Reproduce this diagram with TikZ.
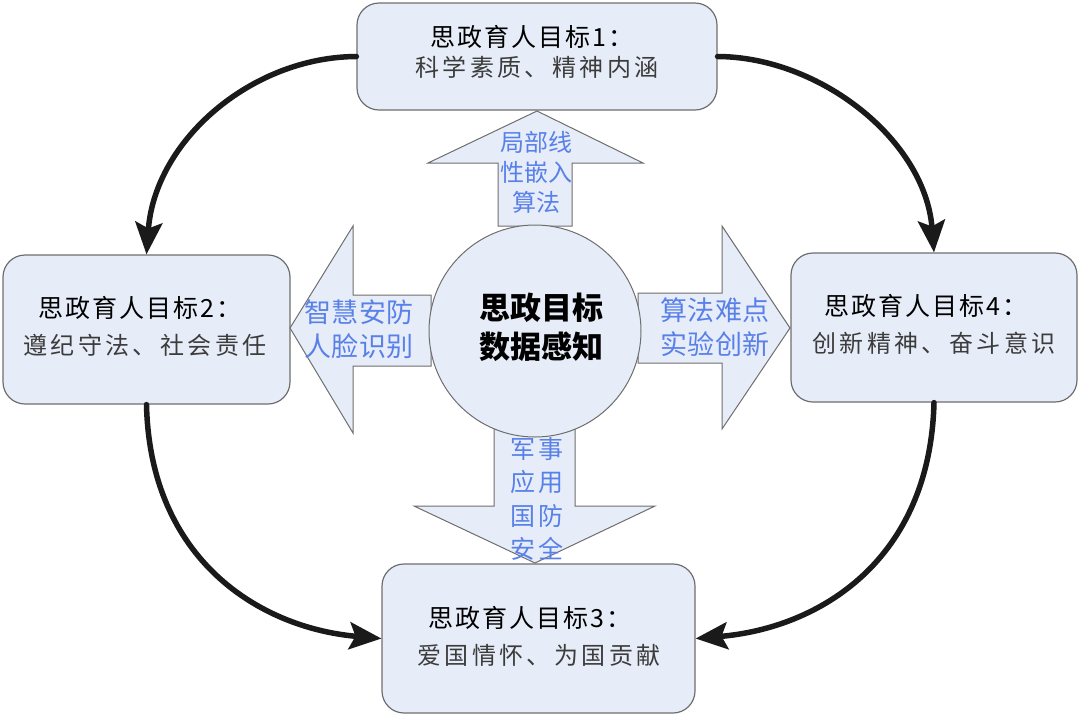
\documentclass[tikz,border=0pt]{standalone}
\usepackage{fontspec}
\usetikzlibrary{arrows.meta}
\newfontfamily\cjktitle[LetterSpace=8]{Noto Sans CJK SC}
\newfontfamily\cjksub[LetterSpace=14]{Noto Sans CJK SC}
\newfontfamily\cjkup[LetterSpace=0]{Noto Sans CJK SC}
\newfontfamily\cjkside[LetterSpace=2]{Noto Sans CJK SC}
\newfontfamily\cjkdown[LetterSpace=12]{Noto Sans CJK SC}
\newfontfamily\cjkcenter[LetterSpace=0]{Noto Sans CJK SC}
\definecolor{boxfill}{RGB}{231,237,248}
\definecolor{boxline}{RGB}{110,110,110}
\definecolor{lbl}{RGB}{88,128,232}
\definecolor{subtxt}{RGB}{60,60,60}
\definecolor{connc}{RGB}{26,26,26}
\begin{document}
\begin{tikzpicture}[x=1pt,y=-1pt,
  goalbox/.style={draw=boxline, fill=boxfill, line width=1.2pt, rounded corners=22pt, inner sep=0pt},
  blockarrow/.style={draw=boxline, fill=boxfill, line width=1pt, line join=miter},
  titletext/.style={inner sep=0pt, font=\cjktitle\fontsize{25}{27}\selectfont, text=black},
  subtext/.style={inner sep=0pt, font=\cjksub\fontsize{24}{27}\selectfont, text=subtxt},
  uptext/.style={inner sep=0pt, align=center, text=lbl, font=\cjkup\fontsize{24}{30}\selectfont},
  sidetext/.style={inner sep=0pt, align=center, text=lbl, font=\cjkside\fontsize{27}{34}\selectfont},
  downtext/.style={inner sep=0pt, align=center, text=lbl, font=\cjkdown\fontsize{25}{33.5}\selectfont},
  centertext/.style={inner sep=0pt, align=center, text=black, font=\cjkcenter\bfseries\fontsize{31}{39}\selectfont},
  conn/.style={line width=5.5pt, draw=connc, line cap=round, -{Stealth[length=32pt,width=27pt,inset=6pt]}}
]
\useasboundingbox (0,0) rectangle (1080,716);

% goal boxes
\node[goalbox, minimum width=360pt, minimum height=107pt] (box1) at (537,56.5) {};
\node[goalbox, minimum width=287pt, minimum height=149pt] (box2) at (146.5,329.5) {};
\node[goalbox, minimum width=286pt, minimum height=149pt] (box4) at (934,327.5) {};
\node[goalbox, minimum width=313pt, minimum height=149pt] (box3) at (538.5,638.5) {};

% block arrows
\draw[blockarrow] (498,226) -- (498,163) -- (428,163) -- (537,111) -- (643,163) -- (572,163) -- (572,226) -- cycle;
\draw[blockarrow] (431,295) -- (353,295) -- (353,226) -- (290,328) -- (353,433) -- (353,366) -- (431,366) -- cycle;
\draw[blockarrow] (638,293) -- (722,293) -- (722,226) -- (790,328) -- (722,429) -- (722,363) -- (638,363) -- cycle;
\draw[blockarrow] (494,428) -- (494,506) -- (414,506) -- (535,563) -- (655,506) -- (575,506) -- (575,428) -- cycle;

% centre circle
\node[circle, draw=boxline, fill=boxfill, line width=1pt, minimum size=212pt, inner sep=0pt] (core) at (535,331) {};
\node[centertext] (coretext) at (541,327.5) {思政目标\\数据感知};

% arrow labels
\node[uptext] (uplbl) at (536,172) {局部线\\性嵌入\\算法};
\node[sidetext] (leftlbl) at (359,329) {智慧安防\\人脸识别};
\node[sidetext] (rightlbl) at (715,327.5) {算法难点\\实验创新};
\node[downtext] (downlbl) at (537,499) {军事\\应用\\国防\\安全};

% box texts
\node[titletext] (t1) at (532,37) {思政育人目标1：};
\node[subtext] (s1) at (537,67.5) {科学素质、精神内涵};
\node[titletext] (t2) at (140,308) {思政育人目标2：};
\node[subtext] (s2) at (145,345) {遵纪守法、社会责任};
\node[titletext] (t4) at (926,306) {思政育人目标4：};
\node[subtext] (s4) at (934,343.5) {创新精神、奋斗意识};
\node[titletext] (t3) at (530,618) {思政育人目标3：};
\node[subtext] (s3) at (539,655) {爱国情怀、为国贡献};

% connectors
\draw[conn] (box1.west) .. controls (252,57) and (155,140) .. (box2.north);
\draw[conn] (box1.east) .. controls (820,57) and (925,140) .. (box4.north);
\draw[conn] (box2.south) .. controls (150,560) and (260,628) .. (box3.west);
\draw[conn] (box4.south) .. controls (930,560) and (820,628) .. (box3.east);
\end{tikzpicture}
\end{document}
